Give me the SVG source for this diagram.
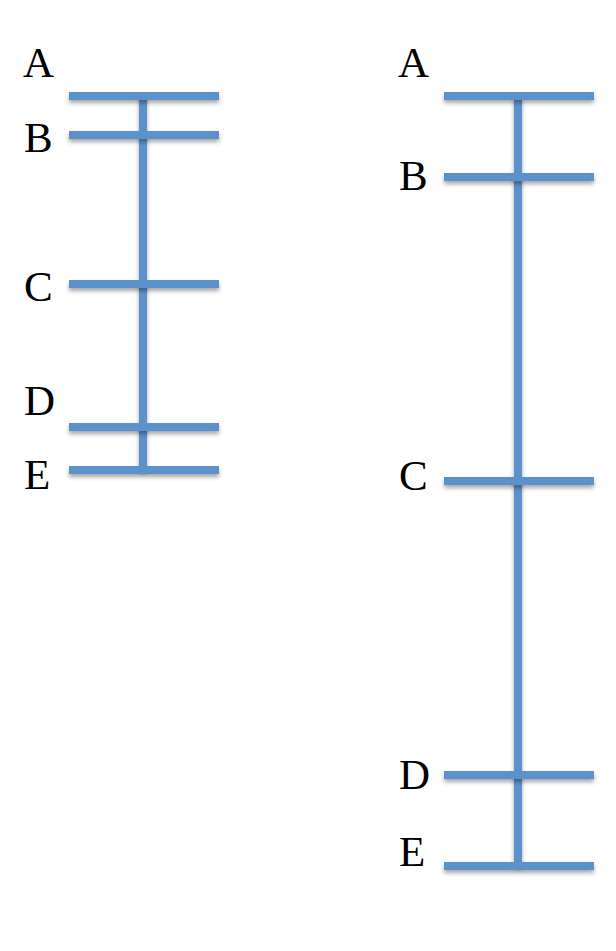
<svg xmlns="http://www.w3.org/2000/svg" width="616" height="951" viewBox="0 0 616 951">
<defs>
<filter id="sh" filterUnits="userSpaceOnUse" x="0" y="0" width="616" height="951">
<feDropShadow dx="0" dy="3" stdDeviation="2" flood-color="#000" flood-opacity="0.35"/>
</filter>
</defs>
<style>
.bar{stroke:#5b92cc;stroke-width:8;fill:none;filter:url(#sh)}
.lbl{font-family:"Liberation Serif","DejaVu Serif",serif;font-size:43px;fill:#000}
</style>
<rect width="616" height="951" fill="#fff"/>
<g id="connectors">
<line class="bar" x1="143" y1="96" x2="143" y2="470"/>
<line class="bar" x1="518" y1="96" x2="518" y2="866"/>
</g>
<g id="left">
<g id="L-A"><line class="bar" x1="69" y1="96" x2="219" y2="96"/><text class="lbl" x="23" y="77">A</text></g>
<g id="L-B"><line class="bar" x1="69" y1="135" x2="219" y2="135"/><text class="lbl" x="24" y="152">B</text></g>
<g id="L-C"><line class="bar" x1="69" y1="284" x2="219" y2="284"/><text class="lbl" x="24" y="301">C</text></g>
<g id="L-D"><line class="bar" x1="69" y1="427" x2="219" y2="427"/><text class="lbl" x="24" y="415">D</text></g>
<g id="L-E"><line class="bar" x1="69" y1="470" x2="219" y2="470"/><text class="lbl" x="24" y="489">E</text></g>
</g>
<g id="right">
<g id="R-A"><line class="bar" x1="444" y1="96" x2="594" y2="96"/><text class="lbl" x="398" y="77">A</text></g>
<g id="R-B"><line class="bar" x1="444" y1="177" x2="594" y2="177"/><text class="lbl" x="399" y="190">B</text></g>
<g id="R-C"><line class="bar" x1="444" y1="481" x2="594" y2="481"/><text class="lbl" x="399" y="490">C</text></g>
<g id="R-D"><line class="bar" x1="444" y1="775" x2="594" y2="775"/><text class="lbl" x="399" y="789">D</text></g>
<g id="R-E"><line class="bar" x1="444" y1="866" x2="594" y2="866"/><text class="lbl" x="399" y="866">E</text></g>
</g>
</svg>
